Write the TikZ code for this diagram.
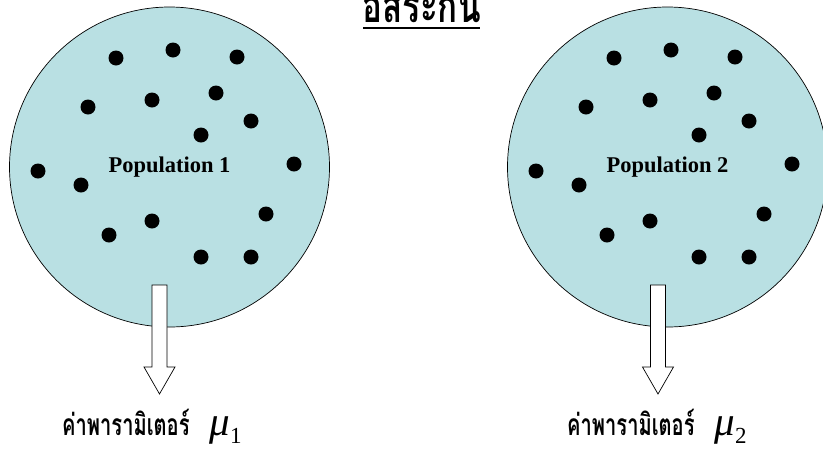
\documentclass[tikz,border=0pt]{standalone}
\usepackage{fontspec}
\setmainfont{Liberation Serif}
\newfontfamily\thaifont[Script=Thai]{Loma}
\usetikzlibrary{calc}
\definecolor{popfill}{RGB}{185,224,227}
\newcommand{\thailabel}{\scalebox{0.67}[1]{\thaifont\bfseries\fontsize{30}{34}\selectfont ค่าพารามิเตอร์}}
\newcommand{\mysym}[1]{{\fontsize{41}{44}\selectfont\itshape μ}\raisebox{-8pt}{\fontsize{23}{26}\selectfont #1}}
\begin{document}
\begin{tikzpicture}[x=1pt,y=-1pt,
  popcircle/.style={circle, draw=black, line width=0.7pt, fill=popfill,
    minimum size=320pt, inner sep=0pt,
    font=\bfseries\fontsize{22.5}{26}\selectfont},
  dotmark/.style={fill=black},
  blockarrow/.style={draw=black, fill=white, line width=0.7pt, line join=miter},
  paramlabel/.style={anchor=base west, inner sep=0pt},
  titlestyle/.style={anchor=base, inner sep=0pt}
]
\useasboundingbox (0,0) rectangle (823,448);

% populations
\node[popcircle] (pop1) at (169.5,167) {Population 1};
\node[popcircle] (pop2) at (667.5,167) {Population 2};

% dots
\foreach \sx in {0,498}{
  \foreach \px/\py in {116/58,173/50,237/57,88/107,152/100,216/93,251/121,201/135,
                       38/171,294/164,81/185,266/214,152/221,109/235,201/257,251/257}{
    \fill[dotmark] (\px+\sx,\py) circle[radius=7.5pt];
  }
}

% labels
\node[paramlabel] (lab1) at (62,435) {\thailabel\hspace{20pt}\mysym{1}};
\node[paramlabel] (lab2) at (567,435) {\thailabel\hspace{20pt}\mysym{2}};

% block arrows from populations to labels
\coordinate (a1top) at (159.5,285);
\coordinate (a1tip) at (159.5,394);
\coordinate (a2top) at (658,285);
\coordinate (a2tip) at (658,394);
\foreach \t/\b in {a1top/a1tip,a2top/a2tip}{
  \draw[blockarrow] ($(\t)+(-7.5,0)$) -- ($(\t)+(7.5,0)$) -- ($(\b)+(7.5,-27)$)
    -- ($(\b)+(15.5,-27)$) -- (\b) -- ($(\b)+(-15.5,-27)$) -- ($(\b)+(-7.5,-27)$) -- cycle;
}

% title (its upper vowels fall outside the frame, as in the reference)
\node[titlestyle] (title) at (421.5,22) {\scalebox{0.72}[1]{\thaifont\bfseries\fontsize{46}{50}\selectfont อิสระกัน}};
\draw[line width=2pt] (363,28) -- (480,28);
\end{tikzpicture}
\end{document}
